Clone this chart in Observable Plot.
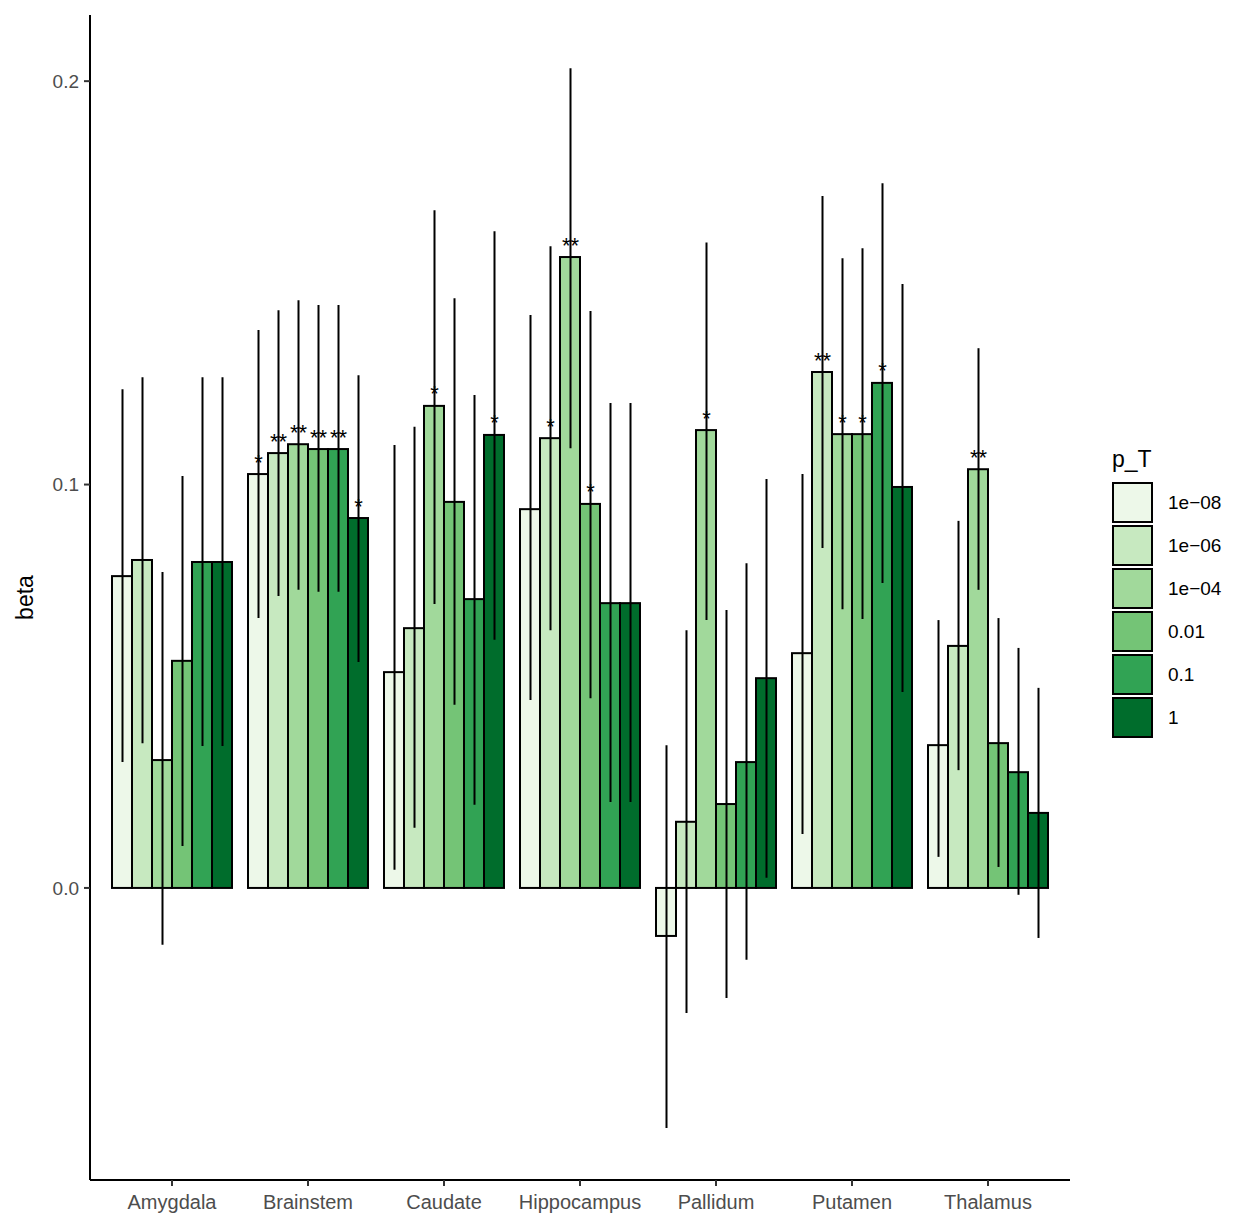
<!DOCTYPE html>
<html>
<head>
<meta charset="utf-8">
<script src="https://cdn.jsdelivr.net/npm/d3@7"></script>
<script src="https://cdn.jsdelivr.net/npm/@observablehq/plot@0.6"></script>
<style>
  body { margin: 0; background: #fff; font-family: "Liberation Sans", Arial, sans-serif; }
  #wrap { position: relative; width: 1233px; height: 1213px; }
  #legend { position: absolute; left: 1112px; top: 446px; font-size: 19px; color: #000; }
  .sw { display: flex; align-items: center; height: 43px; }
  .sw span { display: inline-block; width: 41px; height: 41px; border: 2px solid #000; box-sizing: border-box; margin-right: 15px; }
</style>
</head>
<body>
<div id="wrap"><div id="chart"></div>
<div id="legend"><div style="font-size:23px;margin-bottom:8px">p_T</div></div></div>
<script>
const regions = ["Amygdala", "Brainstem", "Caudate", "Hippocampus", "Pallidum", "Putamen", "Thalamus"];
const pT = ["1e\u221208", "1e\u221206", "1e\u221204", "0.01", "0.1", "1"];
const colors = ["#edf8e9", "#c7e9c0", "#a1d99b", "#74c476", "#31a354", "#006d2c"];
const yTicks = [0, 0.1, 0.2];

const beta = [
  [0.0773, 0.0813, 0.0317, 0.0563, 0.0808, 0.0808],
  [0.1026, 0.1078, 0.1100, 0.1088, 0.1088, 0.0917],
  [0.0535, 0.0644, 0.1195, 0.0957, 0.0716, 0.1123],
  [0.0939, 0.1115, 0.1564, 0.0952, 0.0706, 0.0706],
  [-0.0119, 0.0164, 0.1135, 0.0208, 0.0312, 0.0520],
  [0.0582, 0.1279, 0.1125, 0.1125, 0.1252, 0.0994],
  [0.0354, 0.0600, 0.1038, 0.0359, 0.0287, 0.0186]
];
const hi = [
  [0.1236, 0.1266, 0.0783, 0.1021, 0.1266, 0.1266],
  [0.1383, 0.1432, 0.1457, 0.1445, 0.1445, 0.1271],
  [0.1098, 0.1143, 0.1680, 0.1462, 0.1222, 0.1628],
  [0.1420, 0.1591, 0.2032, 0.1430, 0.1202, 0.1202],
  [0.0354, 0.0639, 0.1600, 0.0689, 0.0805, 0.1014],
  [0.1026, 0.1715, 0.1561, 0.1586, 0.1747, 0.1497],
  [0.0664, 0.0910, 0.1338, 0.0669, 0.0595, 0.0496]
];
const lo = [
  [0.0312, 0.0359, -0.0141, 0.0104, 0.0352, 0.0352],
  [0.0669, 0.0724, 0.0739, 0.0734, 0.0734, 0.0560],
  [0.0045, 0.0149, 0.0704, 0.0454, 0.0206, 0.0615],
  [0.0466, 0.0639, 0.1090, 0.0470, 0.0213, 0.0213],
  [-0.0595, -0.0310, 0.0664, -0.0273, -0.0178, 0.0025],
  [0.0134, 0.0843, 0.0691, 0.0667, 0.0756, 0.0486],
  [0.0077, 0.0292, 0.0739, 0.0052, -0.0017, -0.0124]
];
const stars = [
  ["", "", "", "", "", ""],
  ["*", "**", "**", "**", "**", "*"],
  ["", "", "*", "", "", "*"],
  ["", "*", "**", "*", "", ""],
  ["", "", "*", "", "", ""],
  ["", "**", "*", "*", "*", ""],
  ["", "", "**", "", "", ""]
];

const data = regions.flatMap((r, i) => pT.map((p, j) => ({
  region: r, p_T: p, beta: beta[i][j], lo: lo[i][j], hi: hi[i][j], star: stars[i][j]
})));

const chart = Plot.plot({
  width: 1090,
  height: 1213,
  marginLeft: 90,
  marginRight: 20,
  marginTop: 15,
  marginBottom: 33,
  style: { fontFamily: "Liberation Sans, Arial, sans-serif", fontSize: "19px", background: "#fff" },
  fx: { domain: regions, paddingInner: 0.09, paddingOuter: 0.14, label: null, axis: null },
  x: { domain: pT, axis: null, padding: 0 },
  y: { domain: [-0.0724, 0.2164], axis: null },
  color: { domain: pT, range: colors },
  marks: [
    Plot.barY(data, { fx: "region", x: "p_T", y: "beta", fill: "p_T", stroke: "#000", strokeWidth: 2 }),
    Plot.ruleX(data, { fx: "region", x: "p_T", y1: "lo", y2: "hi", stroke: "#000", strokeWidth: 2 }),
    Plot.text(data, { fx: "region", x: "p_T", y: "beta", text: "star", dy: -12, fontSize: 22 })
  ]
});

// axes drawn by hand from the plot's scales
const svg = d3.select(chart);
const ys = chart.scale("y"), fxs = chart.scale("fx");
const ax = svg.append("g").attr("font-family", "Liberation Sans, Arial, sans-serif");
ax.append("line").attr("x1", 90).attr("x2", 90).attr("y1", 15).attr("y2", 1180).attr("stroke", "#000").attr("stroke-width", 2);
ax.append("line").attr("x1", 90).attr("x2", 1070).attr("y1", 1180).attr("y2", 1180).attr("stroke", "#000").attr("stroke-width", 2);
yTicks.forEach(t => {
  const y = ys.apply(t);
  ax.append("line").attr("x1", 84).attr("x2", 90).attr("y1", y).attr("y2", y).attr("stroke", "#333").attr("stroke-width", 2);
  ax.append("text").attr("x", 79).attr("y", y).attr("dy", "0.35em").attr("text-anchor", "end")
    .attr("font-size", 19).attr("fill", "#4d4d4d").text(d3.format(".1f")(t));
});
regions.forEach(r => {
  const x = fxs.apply(r) + fxs.bandwidth / 2;
  ax.append("line").attr("x1", x).attr("x2", x).attr("y1", 1180).attr("y2", 1186).attr("stroke", "#333").attr("stroke-width", 2);
  ax.append("text").attr("x", x).attr("y", 1209).attr("text-anchor", "middle")
    .attr("font-size", 20).attr("fill", "#4d4d4d").text(r);
});
ax.append("text").attr("transform", `translate(33,${(15 + 1180) / 2}) rotate(-90)`).attr("text-anchor", "middle")
  .attr("font-size", 23).attr("fill", "#000").text("beta");

d3.select("#chart").append(() => chart);

const leg = d3.select("#legend");
pT.forEach((p, i) => {
  const row = leg.append("div").attr("class", "sw");
  row.append("span").style("background", colors[i]);
  row.append("text").text(p);
});
</script>
</body>
</html>
